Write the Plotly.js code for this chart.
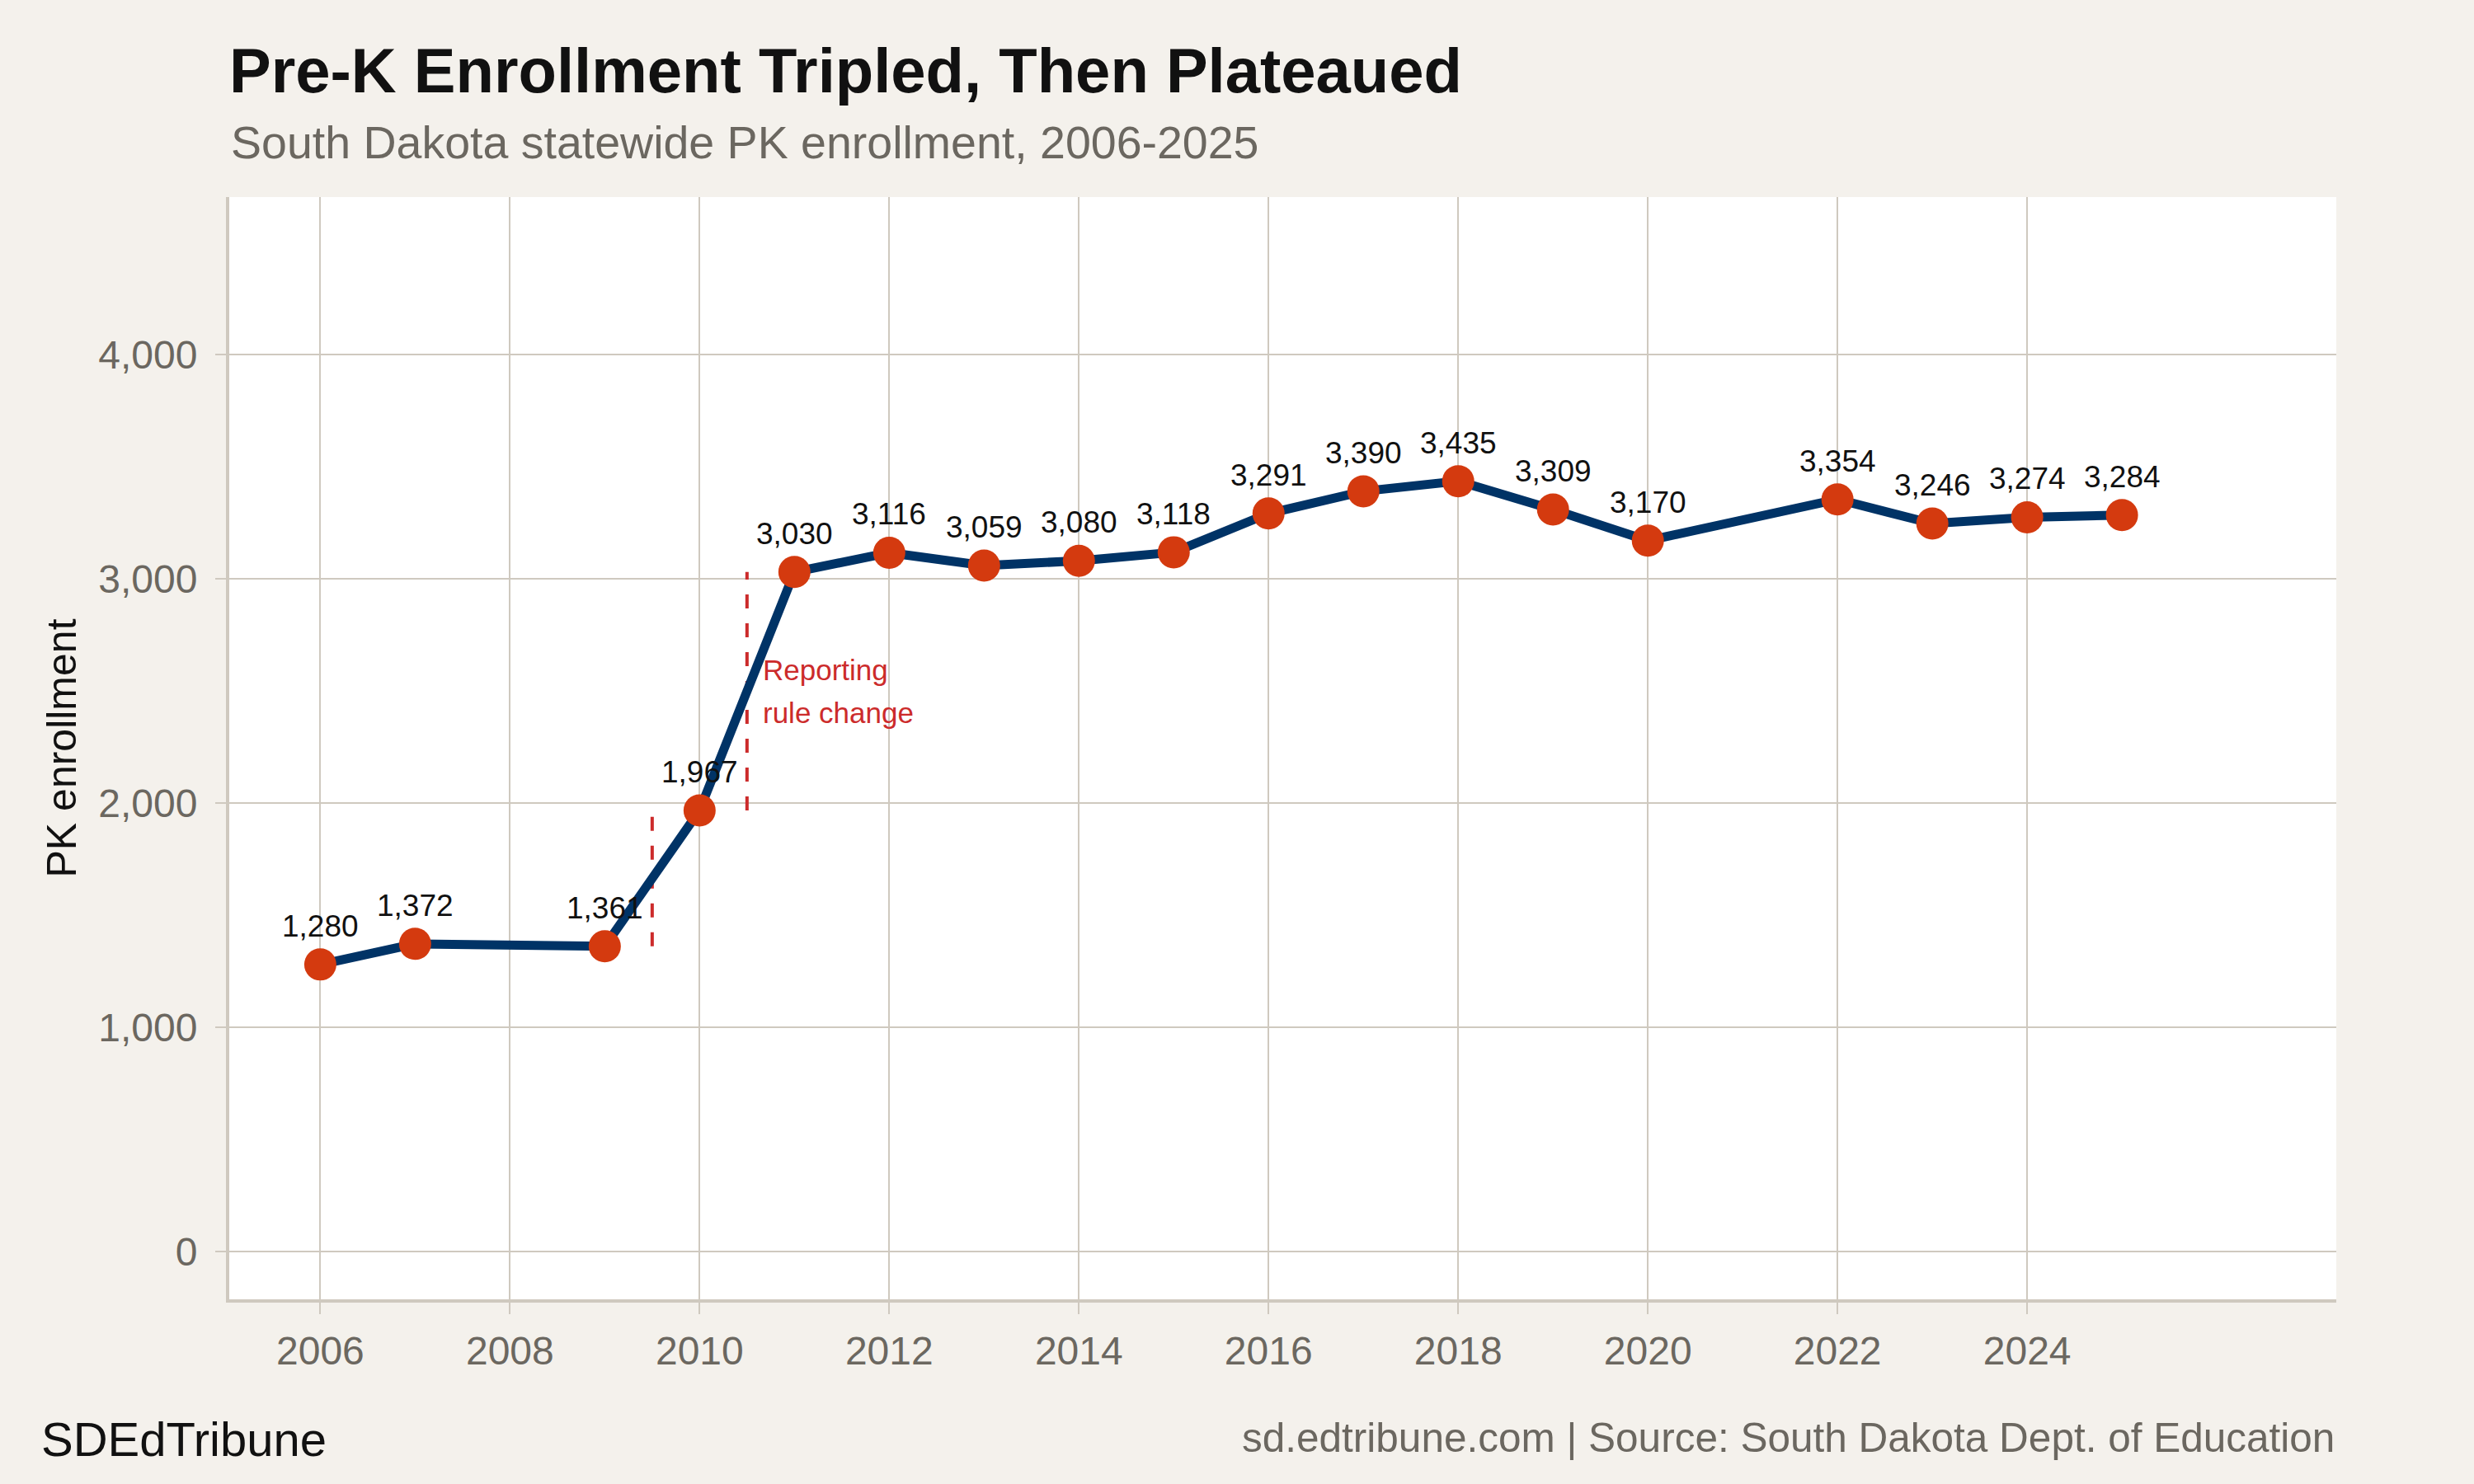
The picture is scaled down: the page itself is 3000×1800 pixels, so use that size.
<!DOCTYPE html>
<html>
<head>
<meta charset="utf-8">
<script src="https://cdn.plot.ly/plotly-3.0.1.min.js"></script>
<style>html,body{margin:0;padding:0;background:#f4f1ec;}</style>
</head>
<body>
<div id="chart" style="width:3000px;height:1800px;"></div>
<script>
// ---- data ----
const years = [2006, 2007, 2009, 2010, 2011, 2012, 2013, 2014, 2015, 2016, 2017, 2018, 2019, 2020, 2022, 2023, 2024, 2025];
const enrollment = [1280, 1372, 1361, 1967, 3030, 3116, 3059, 3080, 3118, 3291, 3390, 3435, 3309, 3170, 3354, 3246, 3274, 3284];
const xTicks = [2006, 2008, 2010, 2012, 2014, 2016, 2018, 2020, 2022, 2024];
const yTicks = [0, 1000, 2000, 3000, 4000];
const ruleX = [2009.5, 2010.5];
const ruleYStart = [1361, 1967];
const ruleYEnd = [1967, 3030];
const ruleNoteLines = ["Reporting", "rule change"];
const ruleNoteX = 2010.65;
const ruleNoteY = [2592, 2404];

const FONT = "Liberation Sans, Arial, Helvetica, sans-serif";
const GRID = "#cfc9bf";
const GRAY = "#6b6760";
const RED = "#cc2b2b";

const traces = [];
ruleX.forEach((x, i) => {
  traces.push({
    x: [x, x], y: [ruleYStart[i], ruleYEnd[i]],
    mode: "lines", type: "scatter", hoverinfo: "skip", showlegend: false,
    line: {color: RED, width: 4, dash: "17px,18px"}
  });
});
traces.push({
  x: years, y: enrollment, type: "scatter", mode: "lines+markers", showlegend: false,
  line: {color: "#003366", width: 11},
  marker: {color: "#d43a0f", size: 39, line: {width: 0}}
});

const annotations = years.map((yr, i) => ({
  x: yr, y: enrollment[i], xref: "x", yref: "y",
  text: enrollment[i].toLocaleString("en-US"),
  showarrow: false, xanchor: "center", yanchor: "bottom", yshift: 24,
  font: {family: FONT, size: 37, color: "#111111"}
}));
ruleNoteLines.forEach((t, i) => annotations.push({
  x: ruleNoteX, y: ruleNoteY[i], xref: "x", yref: "y", text: t,
  showarrow: false, xanchor: "left", yanchor: "middle",
  font: {family: FONT, size: 35, color: RED}
}));
annotations.push({
  xref: "paper", yref: "paper", x: 0, y: 1.0497, xanchor: "left", yanchor: "middle",
  text: "South Dakota statewide PK enrollment, 2006-2025", showarrow: false,
  font: {family: FONT, size: 55.5, color: GRAY}
});
annotations.push({
  xref: "paper", yref: "paper", x: -0.0901, y: -0.1271, xanchor: "left", yanchor: "middle",
  text: "SDEdTribune", showarrow: false,
  font: {family: FONT, size: 58, color: "#111111"}
});
annotations.push({
  xref: "paper", yref: "paper", x: 1.0, y: -0.1253, xanchor: "right", yanchor: "middle",
  text: "sd.edtribune.com | Source: South Dakota Dept. of Education", showarrow: false,
  font: {family: FONT, size: 49.5, color: GRAY}
});

const layout = {
  width: 3000, height: 1800,
  paper_bgcolor: "#f4f1ec", plot_bgcolor: "#ffffff",
  margin: {l: 278, r: 167, t: 239, b: 224, pad: 0},
  font: {family: FONT},
  title: {
    text: "<b>Pre-K Enrollment Tripled, Then Plateaued</b>",
    xref: "paper", x: 0, xanchor: "left",
    yref: "container", y: 1 - 85.5 / 1800, yanchor: "middle",
    font: {family: FONT, size: 76, color: "#111111"}
  },
  xaxis: {
    range: [2005.04, 2027.26], tickvals: xTicks, ticktext: xTicks.map(String),
    showgrid: true, gridcolor: GRID, gridwidth: 2, zeroline: false,
    showline: true, linecolor: GRID, linewidth: 4,
    ticks: "outside", ticklen: 14, tickwidth: 2, tickcolor: GRID,
    ticklabelstandoff: 3,
    tickfont: {family: FONT, size: 48, color: GRAY}
  },
  yaxis: {
    range: [-213, 4702], tickvals: yTicks, ticktext: yTicks.map(v => v.toLocaleString("en-US")),
    showgrid: true, gridcolor: GRID, gridwidth: 2, zeroline: false,
    showline: true, linecolor: GRID, linewidth: 4,
    ticks: "outside", ticklen: 13, tickwidth: 2, tickcolor: GRID,
    ticklabelstandoff: 12,
    tickfont: {family: FONT, size: 48, color: GRAY},
    title: {text: "PK enrollment", standoff: 12, font: {family: FONT, size: 50, color: "#111111"}}
  },
  annotations: annotations,
  showlegend: false
};

Plotly.newPlot("chart", traces, layout, {displayModeBar: false, staticPlot: true});
</script>
</body>
</html>
